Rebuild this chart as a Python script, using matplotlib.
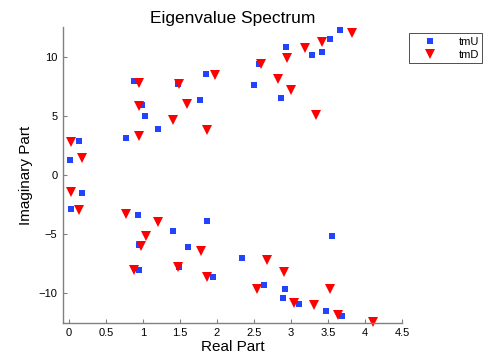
import matplotlib.pyplot as plt

plt.rcParams['font.family'] = ['Liberation Sans', 'DejaVu Sans']

# tmU eigenvalues (real, imaginary)
tmu_re = [0.01, 0.14, 0.77, 0.88, 0.98, 1.03, 1.20, 1.47, 1.77, 1.85, 2.50, 2.57, 2.86, 2.93, 3.28, 3.42, 3.53, 3.66,
          0.03, 0.18, 0.93, 1.40, 0.95, 0.95, 1.61, 1.48, 1.86, 1.95, 2.34, 2.64, 3.55, 2.92, 2.89, 3.11, 3.47, 3.69]
tmu_im = [1.3, 2.9, 3.1, 7.9, 5.9, 5.0, 3.9, 7.7, 6.3, 8.5, 7.6, 9.4, 6.5, 10.8, 10.1, 10.4, 11.5, 12.2,
          -2.9, -1.5, -3.4, -4.7, -5.9, -8.0, -6.1, -7.8, -3.9, -8.6, -7.0, -9.3, -5.2, -9.6, -10.4, -10.9, -11.5, -11.9]

# tmD eigenvalues (real, imaginary)
tmd_re = [0.03, 0.18, 0.95, 0.95, 0.94, 1.48, 1.59, 1.40, 1.86, 1.97, 2.60, 2.82, 3.00, 2.95, 3.19, 3.42, 3.82, 3.34,
          0.03, 0.14, 0.77, 1.20, 1.04, 0.97, 0.88, 1.47, 1.78, 1.87, 2.54, 2.67, 2.90, 3.53, 3.04, 3.31, 3.64, 4.11]
tmd_im = [2.8, 1.4, 7.8, 5.8, 3.3, 7.7, 6.0, 4.6, 3.8, 8.4, 9.4, 8.1, 7.2, 9.9, 10.7, 11.2, 12.0, 5.1,
          -1.45, -3.0, -3.3, -4.0, -5.2, -6.0, -8.0, -7.8, -6.4, -8.6, -9.6, -7.2, -8.2, -9.6, -10.8, -11.0, -11.8, -12.4]

xticks = [0, 0.5, 1, 1.5, 2, 2.5, 3, 3.5, 4, 4.5]
yticks = [-10, -5, 0, 5, 10]

fig = plt.figure(figsize=(4.85, 3.64), dpi=100)
ax = fig.add_axes([0.13, 0.113, 0.699, 0.813])

ax.plot(tmu_re, tmu_im, 's', color='#2244ff', markersize=5, markeredgewidth=0, label='tmU', clip_on=False)
ax.plot(tmd_re, tmd_im, 'v', color='#ff0000', markersize=7.5, markeredgewidth=0, label='tmD', clip_on=False)

ax.set_xlim(-0.08, 4.5)
ax.set_ylim(-12.5, 12.5)
ax.set_xticks(xticks)
ax.set_xticklabels([('%g' % t) for t in xticks])
ax.set_yticks(yticks)

for s in ['top', 'right']:
    ax.spines[s].set_visible(False)
for s in ['left', 'bottom']:
    ax.spines[s].set_color('#808080')
    ax.spines[s].set_linewidth(1.0)
ax.tick_params(direction='in', length=3, color='#808080', labelsize=8, pad=4)

ax.set_title('Eigenvalue Spectrum', fontsize=12.5, pad=3)
ax.set_xlabel('Real Part', fontsize=11, labelpad=1)
ax.set_ylabel('Imaginary Part', fontsize=11, labelpad=4)

leg = ax.legend(loc='upper left', bbox_to_anchor=(1.01, 0.99), fontsize=8, frameon=True,
                fancybox=False, edgecolor='black', markerfirst=True, handlelength=3.2,
                handletextpad=1.0, borderpad=0.3, labelspacing=0.3, borderaxespad=0.3)
leg.get_frame().set_linewidth(0.6)

fig.savefig('out.png', dpi=100)
